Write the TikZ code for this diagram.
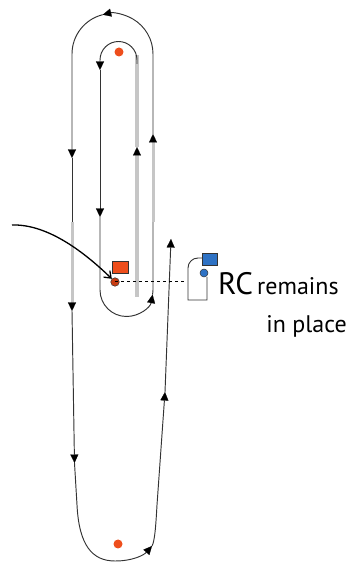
\documentclass[tikz,border=0pt]{standalone}
\usepackage{fontspec}
\setmainfont{PT Sans}
\usetikzlibrary{arrows.meta}
\definecolor{dk}{HTML}{333333}
\definecolor{trk}{HTML}{C6C6C6}
\definecolor{rorange}{HTML}{EE4E1C}
\definecolor{rdark}{HTML}{C83C12}
\definecolor{bblue}{HTML}{2E72C4}
\tikzset{
  traj/.style={draw=dk,line width=0.95pt},
  track/.style={draw=trk,line width=#1},
  track/.default=3.5pt,
  tri/.style={-{Triangle[length=8.5pt,width=8pt,color=black,line width=0.2pt]}},
  reddot/.style={circle,inner sep=0pt,minimum size=9pt,fill=rorange},
  outl/.style={draw=dk,line width=0.5pt},
  lbl/.style={inner sep=0pt,text=black},
}
\begin{document}
\begin{tikzpicture}[x=1pt,y=1pt]
\useasboundingbox (0,0) rectangle (357,567);

% gray track on inner right side (upward)
\draw[track=4pt,tri] (137,270) -- (137,420);
\draw[track=4pt] (137,420) -- (137,512);

% inner top loop and inner left descent
\draw[traj,tri] (137,503) -- (137,507) arc[start angle=0,end angle=180,radius=18.5] -- (100,497);
\draw[traj,tri] (100,497) -- (100,350);
\draw[traj,tri] (100,350) -- (100,277) arc[start angle=180,end angle=350,radius=26.5];
\draw[traj] (152.6,272.4) arc[start angle=350,end angle=360,radius=26.5] -- (153,345);
\draw[track=3pt,tri] (153,345) -- (153,433);
\draw[traj,tri] (153,433) -- (153,513) arc[start angle=0,end angle=104,radius=40.5];
\draw[traj,tri] (102.7,552.3) arc[start angle=104,end angle=180,radius=40.5] -- (72,409);
\draw[traj] (72,409) -- (72,345);
\draw[track=3pt,tri] (72,345) -- (72,256);
\draw[traj,tri] (72,256) -- (74.5,104);
\draw[traj,tri] (74.5,104) -- (77,62) .. controls (79,22) and (92,6) .. (115,6)
  .. controls (133,6) and (144,12) .. (152,21);
\draw[traj,tri] (152,21) .. controls (155,26) and (156,45) .. (157,62) -- (165,175);
\draw[traj,tri] (165,175) -- (171,328);

% dots
\node[reddot] (topdot) at (119,515) {};
\node[reddot] (botdot) at (118,23) {};

% RC (red) at turning point
\node[rectangle,fill=rorange,outl,minimum width=16pt,minimum height=12pt,inner sep=0pt] (redrect) at (120,300) {};
\node[circle,fill=rdark,outl,minimum size=8.5pt,inner sep=0pt] (rdot) at (115,285) {};

% hairpin with blue RC
\coordinate (hp) at (185,285);
\draw[dash pattern=on 3pt off 3pt,line width=1pt,black] (rdot.center) -- (hp);
\draw[outl,line width=0.9pt] (202,309) -- (198,309) arc[start angle=90,end angle=180,radius=10] -- (188,267) -- (207,267) -- (207,290);
\node[rectangle,fill=bblue,outl,minimum width=15pt,minimum height=12pt,inner sep=0pt] (bluerect) at (209.5,308) {};
\node[circle,fill=bblue,outl,minimum size=8pt,inner sep=0pt] (bdot) at (204,294) {};

% incoming arrow
\coordinate (src) at (12,342);
\draw[black,line width=1.3pt,-{Straight Barb[length=6pt,width=9pt]}] (src) .. controls (45,343) and (80,319) .. (rdot.north west);

% label
\node[lbl,anchor=base west,font=\fontsize{31}{31}\selectfont] (rc) at (218,272) {RC};
\node[lbl,anchor=base west,font=\fontsize{24}{24}\selectfont] (rem) at (257,272) {remains};
\node[lbl,anchor=base east,font=\fontsize{24}{24}\selectfont] (inpl) at (347,234) {in place};
\end{tikzpicture}
\end{document}
